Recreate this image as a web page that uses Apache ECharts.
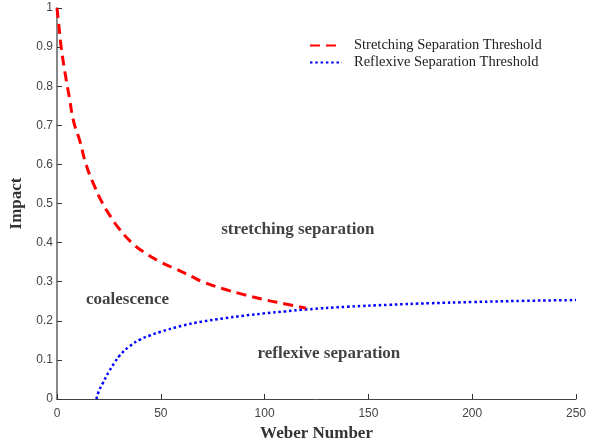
<!DOCTYPE html>
<html>
<head>
<meta charset="utf-8">
<script src="https://cdn.jsdelivr.net/npm/echarts@6/dist/echarts.min.js"></script>
<style>
  html, body { margin: 0; padding: 0; background: #fff; }
  #main { width: 600px; height: 444px; }
</style>
</head>
<body>
<div id="main"></div>
<script>
// stretching separation threshold (red dashed)
var stretchWe = [0, 1, 2, 4, 6, 8, 11, 14, 18, 22, 26, 30, 36, 42, 50, 57, 65, 70, 80, 90, 100, 110, 120];
var stretchB  = [1.0, 0.95, 0.9, 0.83, 0.77, 0.71, 0.66, 0.6, 0.545, 0.5, 0.465, 0.435, 0.4, 0.375, 0.35, 0.333, 0.313, 0.3, 0.282, 0.267, 0.254, 0.243, 0.232];
// reflexive separation threshold (blue dotted)
var reflexWe = [19, 20, 22, 25, 28, 30, 35, 40, 45, 50, 60, 70, 80, 90, 100, 110, 120, 140, 160, 180, 200, 225, 250];
var reflexB  = [0, 0.018, 0.04, 0.07, 0.095, 0.11, 0.135, 0.152, 0.163, 0.172, 0.187, 0.198, 0.206, 0.213, 0.219, 0.224, 0.229, 0.236, 0.241, 0.245, 0.248, 0.251, 0.253];
// region labels
var regionNames = ['stretching separation', 'coalescence', 'reflexive separation'];
var regionWe = [116, 34, 131];
var regionB = [0.432, 0.253, 0.115];

function zip(a, b) {
    return a.map(function (v, i) { return [v, b[i]]; });
}

var chart = echarts.init(document.getElementById('main'));
var serif = '"Liberation Serif", "DejaVu Serif", serif';
var sans = '"Liberation Sans", Arial, sans-serif';

chart.setOption({
    animation: false,
    grid: { left: 57, right: 24, top: 8, bottom: 45, outerBoundsMode: 'none', containLabel: false },
    legend: {
        orient: 'vertical',
        left: 304,
        top: 33,
        itemWidth: 32,
        itemHeight: 10,
        itemGap: 2,
        itemStyle: { opacity: 0 },
        textStyle: { fontFamily: serif, fontSize: 14.5, color: '#222', padding: [0, 0, 0, 7] },
        data: ['Stretching Separation Threshold', 'Reflexive Separation Threshold']
    },
    xAxis: {
        type: 'value',
        min: 0, max: 250, interval: 50,
        name: 'Weber Number',
        nameLocation: 'middle',
        nameGap: 26,
        nameTextStyle: { fontFamily: serif, fontSize: 17, fontWeight: 'bold', color: '#333' },
        axisLine: { lineStyle: { color: '#444', width: 1 } },
        axisTick: { inside: true, length: 5, lineStyle: { color: '#333' } },
        axisLabel: { fontFamily: sans, fontSize: 12, color: '#444', margin: 9 },
        splitLine: { show: false }
    },
    yAxis: {
        type: 'value',
        min: 0, max: 1, interval: 0.1,
        name: 'Impact',
        nameLocation: 'middle',
        nameGap: 30,
        nameTextStyle: { fontFamily: serif, fontSize: 17, fontWeight: 'bold', color: '#333' },
        axisLine: { show: true, lineStyle: { color: '#888', width: 2 } },
        axisTick: { inside: true, length: 5, lineStyle: { color: '#333' } },
        axisLabel: { fontFamily: sans, fontSize: 12, color: '#444', margin: 4 },
        splitLine: { show: false }
    },
    series: [
        {
            name: 'Stretching Separation Threshold',
            type: 'line',
            smooth: true,
            symbol: 'none',
            data: zip(stretchWe, stretchB),
            lineStyle: { color: '#ff0000', width: 3, type: [10, 6] },
            itemStyle: { color: '#ff0000' },
            z: 3
        },
        {
            name: 'Reflexive Separation Threshold',
            type: 'line',
            smooth: true,
            symbol: 'none',
            data: zip(reflexWe, reflexB),
            lineStyle: { color: '#0000ff', width: 2.5, type: [2.5, 2.8] },
            itemStyle: { color: '#0000ff' },
            z: 2
        },
        {
            type: 'scatter',
            symbolSize: 0,
            silent: true,
            data: regionWe.map(function (w, i) {
                return { value: [w, regionB[i]], name: regionNames[i] };
            }),
            label: {
                show: true,
                position: 'inside',
                formatter: '{b}',
                fontFamily: serif,
                fontSize: 17,
                fontWeight: 'bold',
                color: '#111'
            }
        }
    ]
});
</script>
</body>
</html>
